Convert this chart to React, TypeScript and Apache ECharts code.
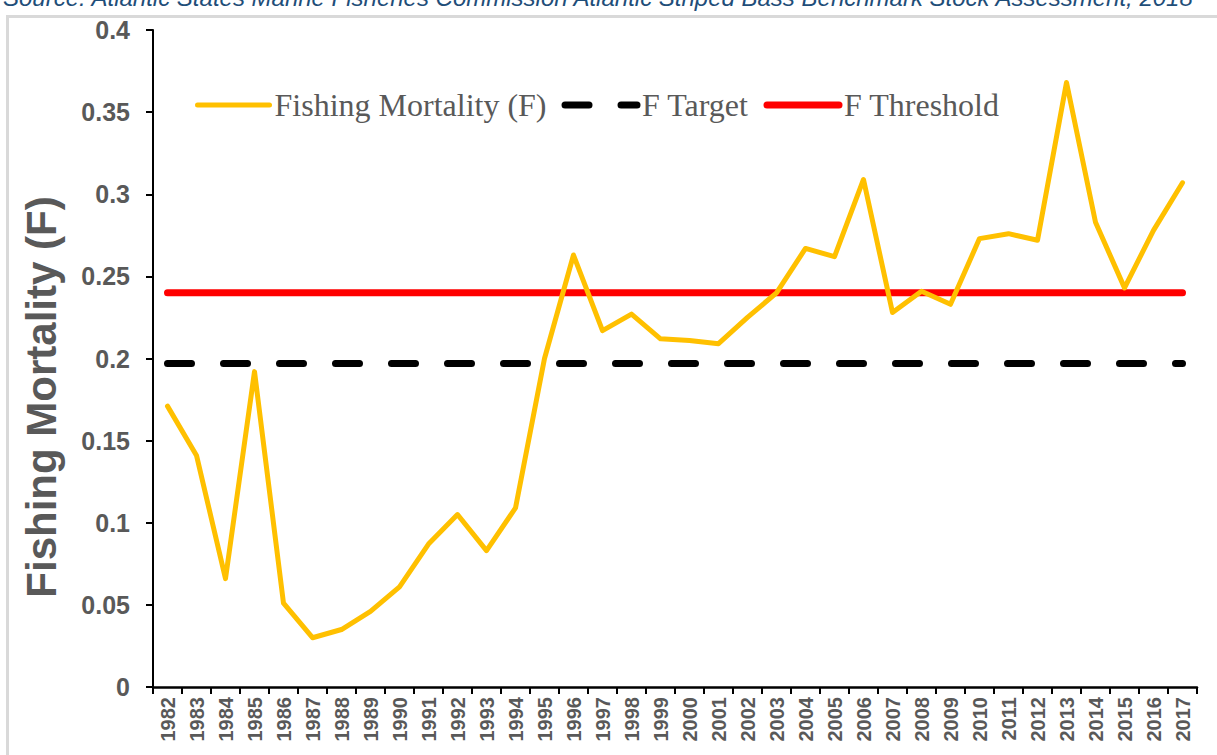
import React, { useEffect, useRef } from "react";
import * as echarts from "echarts";

const years: string[] = [
  "1982", "1983", "1984", "1985", "1986", "1987", "1988", "1989", "1990", "1991",
  "1992", "1993", "1994", "1995", "1996", "1997", "1998", "1999", "2000", "2001",
  "2002", "2003", "2004", "2005", "2006", "2007", "2008", "2009", "2010", "2011",
  "2012", "2013", "2014", "2015", "2016", "2017",
];

const fishingMortality: number[] = [
  0.171, 0.141, 0.066, 0.192, 0.051, 0.030, 0.035, 0.046, 0.061, 0.087,
  0.105, 0.083, 0.109, 0.200, 0.263, 0.217, 0.227, 0.212, 0.211, 0.209,
  0.225, 0.240, 0.267, 0.262, 0.309, 0.228, 0.241, 0.233, 0.273, 0.276,
  0.272, 0.368, 0.283, 0.243, 0.278, 0.307,
];

const fTarget = 0.197;
const fThreshold = 0.24;

const seriesNames = ["Fishing Mortality (F)", "F Target", "F Threshold"];
const sourceText =
  "Source: Atlantic States Marine Fisheries Commission Atlantic Striped Bass Benchmark Stock Assessment, 2018";
const yAxisTitle = "Fishing Mortality (F)";

export default function App() {
  const ref = useRef<HTMLDivElement>(null);

  useEffect(() => {
    if (!ref.current) return;
    const chart = echarts.init(ref.current, undefined, { renderer: "svg" });
    const gray = "#595959";
    chart.setOption({
      animation: false,
      backgroundColor: "#ffffff",
      grid: { left: 153, right: 20, top: 30, bottom: 68, containLabel: false },
      graphic: [
        {
          type: "rect",
          shape: { x: 7.5, y: 16.5, width: 1400, height: 900 },
          style: { fill: "none", stroke: "#d9d9d9", lineWidth: 3 },
          silent: true,
        },
        {
          type: "text",
          x: 3,
          y: 9,
          style: {
            text: sourceText,
            fill: "#1f4e79",
            font: "italic 24px 'Liberation Sans', Arial, sans-serif",
            verticalAlign: "bottom",
          },
          silent: true,
        },
        {
          type: "text",
          x: 41,
          y: 397,
          rotation: Math.PI / 2,
          style: {
            text: yAxisTitle,
            fill: gray,
            font: "bold 42px 'Liberation Sans', Arial, sans-serif",
            align: "center",
            verticalAlign: "middle",
          },
          silent: true,
        },
      ],
      legend: {
        left: 190,
        top: 84,
        itemWidth: 72,
        itemHeight: 14,
        itemGap: 15,
        textStyle: {
          fontFamily: "'Liberation Serif', 'Times New Roman', serif",
          fontSize: 32,
          color: gray,
        },
        data: [
          {
            name: seriesNames[0],
            itemStyle: { opacity: 0 },
            lineStyle: { width: 5, cap: "round" },
          },
          {
            name: seriesNames[1],
            itemStyle: { opacity: 0 },
            lineStyle: { width: 7, cap: "round", type: [24, 32] },
          },
          {
            name: seriesNames[2],
            itemStyle: { opacity: 0 },
            lineStyle: { width: 7, cap: "round" },
          },
        ],
      },
      xAxis: {
        type: "category",
        data: years,
        boundaryGap: true,
        axisLine: { show: true, lineStyle: { color: "#000", width: 2.5 } },
        axisTick: { show: true, length: 7, interval: 0, lineStyle: { color: "#000", width: 2 } },
        axisLabel: {
          interval: 0,
          rotate: 90,
          margin: 10,
          color: gray,
          fontSize: 20,
          fontWeight: "bold",
          fontFamily: "'Liberation Sans', Arial, sans-serif",
        },
        splitLine: { show: false },
      },
      yAxis: {
        type: "value",
        min: 0,
        max: 0.4,
        interval: 0.05,
        axisLine: { show: true, lineStyle: { color: "#000", width: 2 } },
        axisTick: { show: true, length: 7, lineStyle: { color: "#000", width: 2 } },
        axisLabel: {
          margin: 23,
          color: gray,
          fontSize: 25,
          fontWeight: "bold",
          fontFamily: "'Liberation Sans', Arial, sans-serif",
        },
        splitLine: { show: false },
      },
      series: [
        {
          name: seriesNames[1],
          type: "line",
          data: years.map(() => fTarget),
          symbol: "none",
          z: 2,
          lineStyle: { color: "#000000", width: 7, type: [24, 32], cap: "round" },
          itemStyle: { color: "#000000" },
        },
        {
          name: seriesNames[2],
          type: "line",
          data: years.map(() => fThreshold),
          symbol: "none",
          z: 3,
          lineStyle: { color: "#ff0000", width: 7, cap: "round" },
          itemStyle: { color: "#ff0000" },
        },
        {
          name: seriesNames[0],
          type: "line",
          data: fishingMortality,
          symbol: "none",
          z: 4,
          lineStyle: { color: "#ffc000", width: 5, cap: "round", join: "round" },
          itemStyle: { color: "#ffc000" },
        },
      ],
    });
    return () => chart.dispose();
  }, []);

  return (
    <div
      ref={ref}
      style={{ position: "absolute", left: 0, top: 0, width: 1217, height: 755 }}
    />
  );
}
